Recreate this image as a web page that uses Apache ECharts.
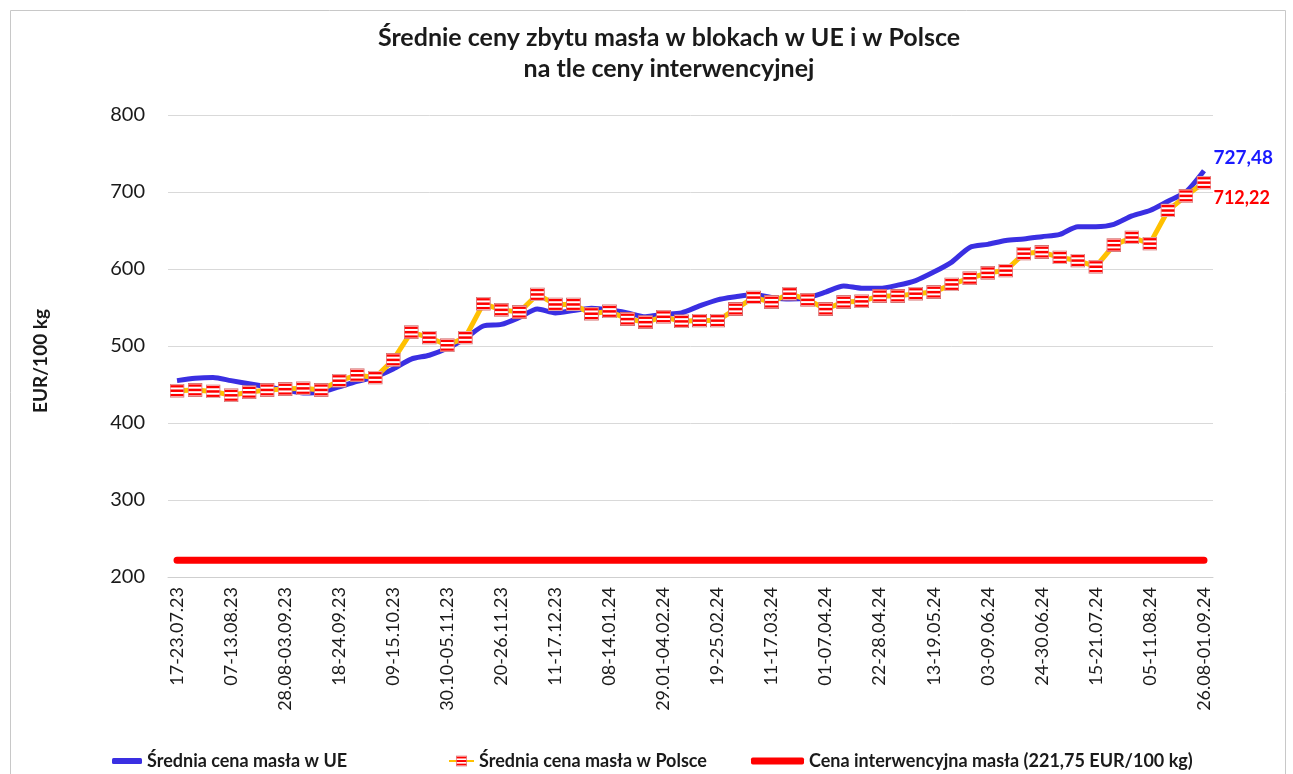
<!DOCTYPE html>
<html>
<head>
<meta charset="utf-8">
<title>Średnie ceny zbytu masła</title>
<script src="https://cdn.jsdelivr.net/npm/echarts@6/dist/echarts.min.js"></script>
<style>
  html, body { margin: 0; padding: 0; background: #fff; }
  #chart { width: 1293px; height: 774px; }
</style>
</head>
<body>
<div id="chart"></div>
<script>
// tygodnie notowań (2023-2024)
var weeks = [
    '17-23.07.23', '24-30.07.23', '31.07-06.08.23', '07-13.08.23', '14-20.08.23', '21-27.08.23',
    '28.08-03.09.23', '04-10.09.23', '11-17.09.23', '18-24.09.23', '25.09-01.10.23', '02-08.10.23',
    '09-15.10.23', '16-22.10.23', '23-29.10.23', '30.10-05.11.23', '06-12.11.23', '13-19.11.23',
    '20-26.11.23', '27.11-03.12.23', '04-10.12.23', '11-17.12.23', '18-24.12.23', '25.12.23-07.01.24',
    '08-14.01.24', '15-21.01.24', '22-28.01.24', '29.01-04.02.24', '05-11.02.24', '12-18.02.24',
    '19-25.02.24', '26.02-03.03.24', '04-10.03.24', '11-17.03.24', '18-24.03.24', '25-31.03.24',
    '01-07.04.24', '08-14.04.24', '15-21.04.24', '22-28.04.24', '29.04-05.05.24', '06-12.05.24',
    '13-19.05.24', '20-26.05.24', '27.05-02.06.24', '03-09.06.24', '10-16.06.24', '17-23.06.24',
    '24-30.06.24', '01-07.07.24', '08-14.07.24', '15-21.07.24', '22-28.07.24', '29.07-04.08.24',
    '05-11.08.24', '12-18.08.24', '19-25.08.24', '26.08-01.09.24'
];

// EUR/100 kg
var priceEU = [
    455, 458, 459, 455, 451, 447, 443, 439, 440, 447, 454, 460,
    470, 483, 488, 497, 510, 526, 528, 537, 548, 543, 546, 549,
    547, 543, 538, 541, 543, 552, 560, 564, 567, 563, 561, 563,
    570, 578, 575, 575, 579, 585, 596, 609, 628, 632, 637, 639,
    642, 645, 655, 655, 658, 669, 676, 688, 700, 727.48
];

var pricePL = [
    442, 443, 441, 436, 440, 443, 444, 445, 443, 455, 462, 459,
    482, 518, 511, 501, 511, 555, 547, 544, 567, 554, 554, 542,
    545, 535, 531, 538, 532, 533, 533, 548, 563, 557, 568, 560,
    548, 557, 558, 565, 565, 568, 570, 580, 588, 595, 598, 620,
    622, 615, 611, 603, 631, 641, 633, 676, 695, 712.22
];

var interventionPrice = 221.75;
var intervention = weeks.map(function () { return interventionPrice; });

var yTicks = [200, 300, 400, 500, 600, 700, 800];

var names = [
    'Średnia cena masła w UE',
    'Średnia cena masła w Polsce',
    'Cena interwencyjna masła (221,75 EUR/100 kg)'
];

// znacznik w paski (czerwono-biały)
var markerSvg = "<svg xmlns='http://www.w3.org/2000/svg' width='15' height='14'>" +
    "<rect x='0.5' y='0.5' width='14' height='13' fill='#ffffff' stroke='#d46a6a'/>" +
    "<rect x='1' y='1.5' width='13' height='2.3' fill='#ff0000'/>" +
    "<rect x='1' y='5.8' width='13' height='2.5' fill='#ff0000'/>" +
    "<rect x='1' y='10.3' width='13' height='2.2' fill='#ff0000'/>" +
    "</svg>";
var markerImg = 'image://data:image/svg+xml;charset=utf-8,' + encodeURIComponent(markerSvg);

var FONT = 'Lato, "Open Sans", sans-serif';
var last = weeks.length - 1;
var legendText = { fontFamily: FONT, fontSize: 18, fontWeight: 'bold', color: '#1a1a1a' };

var chart = echarts.init(document.getElementById('chart'));

var option = {
    animation: false,
    backgroundColor: '#fff',
    textStyle: { fontFamily: FONT },
    title: {
        text: 'Średnie ceny zbytu masła w blokach w UE i w Polsce\nna tle ceny interwencyjnej',
        left: 664,
        top: 17,
        textAlign: 'center',
        textStyle: {
            fontFamily: FONT,
            fontSize: 25,
            fontWeight: 'bold',
            color: '#1a1a1a',
            lineHeight: 31
        }
    },
    graphic: [{
        type: 'rect',
        shape: { x: 10.5, y: 10.5, width: 1275, height: 800 },
        style: { fill: 'none', stroke: '#c8c8c8', lineWidth: 1 },
        silent: true
    }],
    legend: [{
        left: 107, top: 747,
        data: [names[0]],
        icon: 'roundRect', itemWidth: 30, itemHeight: 6,
        textStyle: legendText
    }, {
        left: 443, top: 747,
        data: [names[1]],
        itemWidth: 25, itemHeight: 14,
        textStyle: legendText
    }, {
        left: 746, top: 747,
        data: [names[2]],
        icon: 'roundRect', itemWidth: 53, itemHeight: 7,
        textStyle: legendText
    }],
    grid: {
        left: 168,
        right: 80,
        top: 115,
        bottom: 197,
        containLabel: false
    },
    xAxis: {
        type: 'category',
        data: weeks,
        boundaryGap: true,
        axisLine: { lineStyle: { color: '#cfcfcf', width: 1 } },
        axisTick: { show: false },
        axisLabel: {
            interval: 2,
            rotate: 90,
            margin: 10,
            fontFamily: FONT,
            fontSize: 18,
            color: '#1a1a1a'
        }
    },
    yAxis: {
        type: 'value',
        min: yTicks[0],
        max: yTicks[yTicks.length - 1],
        interval: 100,
        name: 'EUR/100 kg',
        nameLocation: 'middle',
        nameRotate: 90,
        nameGap: 118,
        nameTextStyle: { fontFamily: FONT, fontSize: 19, fontWeight: 'bold', color: '#1a1a1a', padding: [0, 30, 0, 0] },
        axisLine: { show: false },
        axisTick: { show: false },
        axisLabel: { margin: 23, fontFamily: FONT, fontSize: 20, color: '#1a1a1a' },
        splitLine: { lineStyle: { color: '#d9d9d9', width: 1 } }
    },
    series: [{
        name: names[0],
        type: 'line',
        data: priceEU,
        smooth: 0.25,
        showSymbol: false,
        symbol: 'none',
        color: '#3a2fe2',
        lineStyle: { width: 5, color: '#3a2fe2' },
        z: 3,
        markPoint: {
            symbol: 'circle', symbolSize: 1,
            itemStyle: { color: 'transparent' },
            data: [{ coord: [last, priceEU[last]], value: '727,48' }],
            label: {
                show: true, position: 'right', offset: [4, -13],
                formatter: '{c}',
                fontFamily: FONT, fontSize: 19, fontWeight: 'bold', color: '#1a1aff'
            }
        }
    }, {
        name: names[1],
        type: 'line',
        data: pricePL,
        symbol: markerImg,
        symbolSize: [15, 14],
        showAllSymbol: true,
        color: '#ffc000',
        lineStyle: { width: 5, color: '#ffc000' },
        z: 4,
        markPoint: {
            symbol: 'circle', symbolSize: 1,
            itemStyle: { color: 'transparent' },
            data: [{ coord: [last, pricePL[last]], value: '712,22' }],
            label: {
                show: true, position: 'right', offset: [4, 16],
                formatter: '{c}',
                fontFamily: FONT, fontSize: 18, fontWeight: 'bold', color: '#ff0000'
            }
        }
    }, {
        name: names[2],
        type: 'line',
        data: intervention,
        showSymbol: false,
        symbol: 'none',
        color: '#ff0000',
        lineStyle: { width: 7, color: '#ff0000', cap: 'round' },
        z: 2
    }]
};

chart.setOption(option);
</script>
</body>
</html>
